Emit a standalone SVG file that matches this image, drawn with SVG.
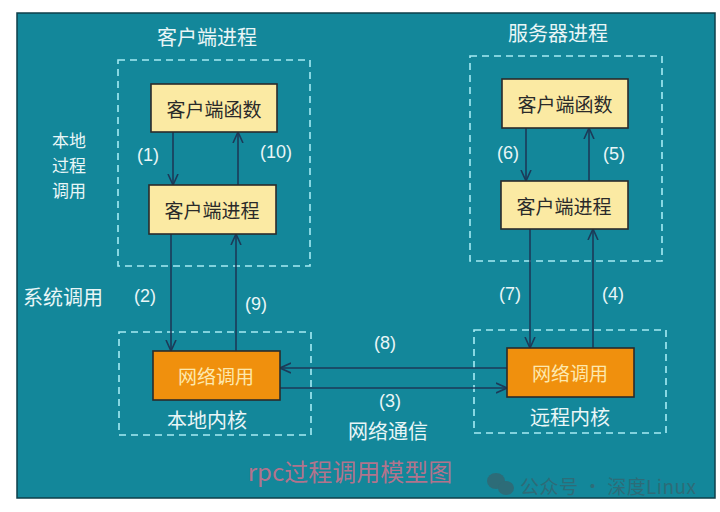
<svg xmlns="http://www.w3.org/2000/svg" width="720" height="512" viewBox="0 0 720 512">
<style>
.lbl{font-family:"Noto Sans CJK SC","Liberation Sans",sans-serif;fill:#e9f6f7;font-size:20px;text-anchor:middle;dominant-baseline:central}
.side{font-size:17px}
.num{font-family:"Liberation Sans","Noto Sans CJK SC",sans-serif;fill:#e9f6f7;font-size:18px;text-anchor:middle;dominant-baseline:central}
.box{fill:#fbeaa3;stroke:#2b2b2b;stroke-width:1.6}
.obox{fill:#f0900d;stroke:#2b2b2b;stroke-width:1.6}
.btxt{font-family:"Noto Sans CJK SC","Liberation Sans",sans-serif;fill:#2a2a2a;font-size:19px;text-anchor:middle;dominant-baseline:central}
.otxt{font-family:"Noto Sans CJK SC","Liberation Sans",sans-serif;fill:#fde8ae;font-size:19px;text-anchor:middle;dominant-baseline:central}
.dash{fill:none;stroke:#a6ecf4;stroke-width:1.6;stroke-dasharray:7 5}
.arr{fill:none;stroke:#1c3a58;stroke-width:1.6;marker-end:url(#ah)}
</style>
<defs>
<marker id="ah" viewBox="0 0 12 12" refX="11" refY="6" markerWidth="12" markerHeight="12" markerUnits="userSpaceOnUse" orient="auto">
<path d="M0,1 L11,6 L0,11" fill="none" stroke="#1c3a58" stroke-width="1.6"/>
</marker>
</defs>
<rect x="0" y="0" width="720" height="512" fill="#ffffff"/>
<rect id="panel" x="17" y="13" width="698" height="485" fill="#13879a" stroke="#0e3f4a" stroke-width="1.5"/>

<g id="client-process">
<text class="lbl" x="207" y="36">客户端进程</text>
<rect class="dash" x="118" y="60" width="192" height="206"/>
</g>
<g id="server-process">
<text class="lbl" x="558" y="32">服务器进程</text>
<rect class="dash" x="470" y="56" width="192" height="205"/>
</g>
<g id="local-kernel">
<rect class="dash" x="119" y="332" width="192" height="103"/>
<text class="lbl" x="207" y="419">本地内核</text>
</g>
<g id="remote-kernel">
<rect class="dash" x="474" y="330" width="192" height="103"/>
<text class="lbl" x="570" y="416">远程内核</text>
</g>

<g id="side-labels">
<text class="lbl side" x="69" y="139">本地</text>
<text class="lbl side" x="69" y="164">过程</text>
<text class="lbl side" x="69" y="189">调用</text>
<text class="lbl" x="63" y="296">系统调用</text>
</g>

<g id="connectors">
<line class="arr" x1="173" y1="132" x2="173" y2="185"/>
<line class="arr" x1="238" y1="185" x2="238" y2="132"/>
<line class="arr" x1="171" y1="234" x2="171" y2="351"/>
<line class="arr" x1="236" y1="351" x2="236" y2="234"/>
<line class="arr" x1="526" y1="128" x2="526" y2="181"/>
<line class="arr" x1="589" y1="181" x2="589" y2="128"/>
<line class="arr" x1="530" y1="229" x2="530" y2="348"/>
<line class="arr" x1="593" y1="348" x2="593" y2="229"/>
<line class="arr" x1="507" y1="368" x2="280" y2="368"/>
<line class="arr" x1="280" y1="388" x2="507" y2="388"/>
<text class="num" x="148" y="155">(1)</text>
<text class="num" x="276" y="152">(10)</text>
<text class="num" x="145" y="296">(2)</text>
<text class="num" x="256" y="304">(9)</text>
<text class="num" x="508" y="153">(6)</text>
<text class="num" x="614" y="154">(5)</text>
<text class="num" x="510" y="294">(7)</text>
<text class="num" x="613" y="294">(4)</text>
<text class="num" x="385" y="343">(8)</text>
<text class="num" x="390" y="401">(3)</text>
<text class="lbl" x="388" y="430">网络通信</text>
</g>

<g id="client-func">
<rect class="box" x="151" y="84" width="126" height="48"/>
<text class="btxt" x="214" y="108">客户端函数</text>
</g>
<g id="client-stub">
<rect class="box" x="149" y="185" width="127" height="49"/>
<text class="btxt" x="212" y="209">客户端进程</text>
</g>
<g id="server-func">
<rect class="box" x="502" y="79" width="126" height="49"/>
<text class="btxt" x="565" y="103">客户端函数</text>
</g>
<g id="server-stub">
<rect class="box" x="501" y="181" width="127" height="48"/>
<text class="btxt" x="564" y="205">客户端进程</text>
</g>
<g id="local-net">
<rect class="obox" x="153" y="351" width="127" height="49"/>
<text class="otxt" x="216" y="375">网络调用</text>
</g>
<g id="remote-net">
<rect class="obox" x="507" y="348" width="127" height="49"/>
<text class="otxt" x="570" y="372">网络调用</text>
</g>

<g id="caption">
<text x="350" y="470" font-family="Noto Sans CJK SC, Liberation Sans, sans-serif" font-size="24" fill="#d0708a" fill-opacity="0.85" text-anchor="middle" dominant-baseline="central">rpc过程调用模型图</text>
</g>
<g id="watermark" fill="#2d6c78">
<ellipse cx="496" cy="481" rx="9" ry="8"/>
<ellipse cx="506" cy="488" rx="8" ry="7"/>
<text x="520" y="485" font-family="Noto Sans CJK SC, Liberation Sans, sans-serif" font-size="19" textLength="176" lengthAdjust="spacing" dominant-baseline="central">公众号 · 深度Linux</text>
</g>
</svg>
